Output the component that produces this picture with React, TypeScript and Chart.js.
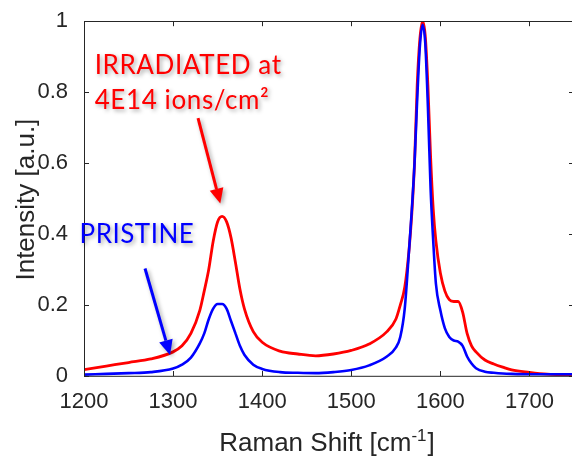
import React, { useEffect, useRef } from "react";
import { Chart, registerables } from "chart.js";
Chart.register(...registerables);

// Raman shift (cm^-1) sample positions
const ramanShift = [
  1200, 1225, 1250, 1275, 1300, 1310, 1320, 1330, 1335, 1340, 1345, 1350, 1355, 1360, 1365, 1370,
  1375, 1380, 1390, 1400, 1420, 1440, 1460, 1480, 1500, 1520, 1540, 1550, 1555, 1560, 1565, 1568,
  1571, 1574, 1577, 1580, 1583, 1586, 1589, 1592, 1595, 1600, 1605, 1610, 1615, 1620, 1625, 1630,
  1635, 1640, 1650, 1660, 1670, 1680, 1700, 1720, 1750,
];
// Irradiated at 4E14 ions/cm2 (red)
const intensityIrradiated = [
  0.018, 0.028, 0.038, 0.048, 0.068, 0.085, 0.12, 0.185, 0.24, 0.3, 0.38, 0.435, 0.45, 0.435, 0.39, 0.32,
  0.245, 0.19, 0.125, 0.095, 0.07, 0.062, 0.057, 0.062, 0.072, 0.09, 0.125, 0.16, 0.2, 0.25, 0.36, 0.46,
  0.6, 0.82, 0.95, 1.0, 0.96, 0.82, 0.62, 0.47, 0.38, 0.29, 0.24, 0.215, 0.21, 0.21, 0.18, 0.12,
  0.085, 0.068, 0.045, 0.034, 0.025, 0.017, 0.01, 0.005, 0.003,
];
// Pristine (blue)
const intensityPristine = [
  0.004, 0.006, 0.008, 0.011, 0.021, 0.032, 0.052, 0.092, 0.12, 0.16, 0.19, 0.203, 0.203, 0.19, 0.155, 0.12,
  0.085, 0.06, 0.032, 0.02, 0.011, 0.009, 0.008, 0.011, 0.017, 0.03, 0.055, 0.08, 0.11, 0.19, 0.36, 0.47,
  0.6, 0.78, 0.93, 0.99, 0.94, 0.76, 0.53, 0.38, 0.26, 0.185, 0.135, 0.11, 0.1, 0.097, 0.085, 0.055,
  0.035, 0.022, 0.012, 0.009, 0.007, 0.006, 0.005, 0.005, 0.005,
];
const xTickValues = [1200, 1300, 1400, 1500, 1600, 1700];
const yTickValues = [0, 0.2, 0.4, 0.6, 0.8, 1];
const yTickLabels = ["0", "0.2", "0.4", "0.6", "0.8", "1"];

const xTitle = "Raman Shift [cm";
const xTitleSup = "-1";
const xTitleEnd = "]";
const yTitle = "Intensity [a.u.]";
const irradiatedLabel = ["IRRADIATED at", "4E14 ions/cm²"];
const pristineLabel = "PRISTINE";

// annotation anchors (data coordinates)
const irradiatedText = { x: 1212, y: 0.85 };
const irradiatedArrow = { x1: 1328, y1: 0.727, x2: 1353, y2: 0.486 };
const pristineText = { x: 1195, y: 0.376 };
const pristineArrow = { x1: 1268.5, y1: 0.303, x2: 1296.6, y2: 0.059 };

const AXIS = "#262626";
const TICK_FONT = "'Liberation Sans', Arial, sans-serif";
const NOTE_FONT = "Lato, 'Open Sans', sans-serif";

function drawArrow(ctx: CanvasRenderingContext2D, x1: number, y1: number, x2: number, y2: number, color: string) {
  const ang = Math.atan2(y2 - y1, x2 - x1);
  const hl = 15, hw = 7;
  const bx = x2 - hl * Math.cos(ang), by = y2 - hl * Math.sin(ang);
  ctx.strokeStyle = color;
  ctx.fillStyle = color;
  ctx.lineWidth = 3;
  ctx.beginPath();
  ctx.moveTo(x1, y1);
  ctx.lineTo(bx, by);
  ctx.stroke();
  ctx.beginPath();
  ctx.moveTo(x2, y2);
  ctx.lineTo(bx + hw * Math.sin(ang), by - hw * Math.cos(ang));
  ctx.lineTo(bx - hw * Math.sin(ang), by + hw * Math.cos(ang));
  ctx.closePath();
  ctx.fill();
}

const framePlugin = {
  id: "frame",
  afterDraw(chart: any) {
    const { ctx, chartArea: a, scales } = chart;
    const x = scales.x, y = scales.y;
    ctx.save();
    // frame
    ctx.strokeStyle = AXIS;
    ctx.lineWidth = 1;
    ctx.strokeRect(Math.round(a.left) + 0.5, Math.round(a.top) + 0.5, a.right - a.left, a.bottom - a.top);
    // inner ticks
    const tl = 5;
    ctx.beginPath();
    xTickValues.forEach((v) => {
      const px = Math.round(x.getPixelForValue(v)) + 0.5;
      ctx.moveTo(px, a.bottom);
      ctx.lineTo(px, a.bottom - tl);
      ctx.moveTo(px, a.top);
      ctx.lineTo(px, a.top + tl);
    });
    yTickValues.forEach((v) => {
      const py = Math.round(y.getPixelForValue(v)) + 0.5;
      ctx.moveTo(a.left, py);
      ctx.lineTo(a.left + tl, py);
      ctx.moveTo(a.right, py);
      ctx.lineTo(a.right - tl, py);
    });
    ctx.stroke();

    // axis titles
    ctx.fillStyle = AXIS;
    ctx.textBaseline = "alphabetic";
    const big = `26px ${TICK_FONT}`;
    const small = `17px ${TICK_FONT}`;
    ctx.font = big;
    const w1 = ctx.measureText(xTitle).width;
    ctx.font = small;
    const w2 = ctx.measureText(xTitleSup).width;
    ctx.font = big;
    const w3 = ctx.measureText(xTitleEnd).width;
    const total = w1 + w2 + w3 + 1;
    const cx = (a.left + a.right) / 2;
    let sx = cx - total / 2 - 2;
    const by = 451;
    ctx.textAlign = "left";
    ctx.fillText(xTitle, sx, by);
    sx += w1;
    ctx.font = small;
    ctx.fillText(xTitleSup, sx, by - 10);
    sx += w2 + 1;
    ctx.font = big;
    ctx.fillText(xTitleEnd, sx, by);

    ctx.save();
    ctx.translate(34, (a.top + a.bottom) / 2 + 1);
    ctx.rotate(-Math.PI / 2);
    ctx.textAlign = "center";
    ctx.fillText(yTitle, 0, 0);
    ctx.restore();

    // annotations
    ctx.shadowColor = "rgba(0,0,0,0.35)";
    ctx.shadowBlur = 4;
    ctx.shadowOffsetX = 2;
    ctx.shadowOffsetY = 2;
    ctx.textAlign = "left";
    ctx.font = `26px ${NOTE_FONT}`;
    (ctx as any).letterSpacing = "0.6px";
    ctx.fillStyle = "#ff0000";
    const tx = x.getPixelForValue(irradiatedText.x);
    const ty = y.getPixelForValue(irradiatedText.y);
    ctx.fillText(irradiatedLabel[0], tx, ty);
    ctx.fillText(irradiatedLabel[1], tx, ty + 35);
    drawArrow(
      ctx,
      x.getPixelForValue(irradiatedArrow.x1), y.getPixelForValue(irradiatedArrow.y1),
      x.getPixelForValue(irradiatedArrow.x2), y.getPixelForValue(irradiatedArrow.y2),
      "#ff0000"
    );
    ctx.fillStyle = "#0000ff";
    (ctx as any).letterSpacing = "0.5px";
    ctx.fillText(pristineLabel, x.getPixelForValue(pristineText.x), y.getPixelForValue(pristineText.y));
    drawArrow(
      ctx,
      x.getPixelForValue(pristineArrow.x1), y.getPixelForValue(pristineArrow.y1),
      x.getPixelForValue(pristineArrow.x2), y.getPixelForValue(pristineArrow.y2),
      "#0000ff"
    );
    (ctx as any).letterSpacing = "0px";
    ctx.restore();
  },
};

export default function App() {
  const ref = useRef<HTMLCanvasElement | null>(null);
  useEffect(() => {
    document.body.style.margin = "0";
    if (!ref.current) return;
    const chart = new Chart(ref.current, {
      type: "line",
      data: {
        datasets: [
          {
            label: "Pristine",
            data: ramanShift.map((v, i) => ({ x: v, y: intensityPristine[i] })),
            borderColor: "#0000ff",
            borderWidth: 2.6,
            pointRadius: 0,
            cubicInterpolationMode: "monotone",
          },
          {
            label: "Irradiated",
            data: ramanShift.map((v, i) => ({ x: v, y: intensityIrradiated[i] })),
            borderColor: "#ff0000",
            borderWidth: 2.8,
            pointRadius: 0,
            cubicInterpolationMode: "monotone",
          },
        ],
      },
      options: {
        animation: false,
        responsive: true,
        maintainAspectRatio: false,
        layout: { padding: { top: 20, right: 0, left: 0, bottom: 0 } },
        plugins: { legend: { display: false }, tooltip: { enabled: false } },
        scales: {
          x: {
            type: "linear",
            min: 1200,
            max: 1750,
            grid: { display: false },
            border: { display: false },
            afterBuildTicks: (s: any) => {
              s.ticks = xTickValues.map((v) => ({ value: v }));
            },
            afterFit: (s: any) => {
              s.height = 80;
            },
            ticks: {
              color: AXIS,
              font: { size: 22, family: TICK_FONT },
              padding: 5,
              maxRotation: 0,
              callback: (v: any) => String(v),
            },
          },
          y: {
            type: "linear",
            min: 0,
            max: 1,
            grid: { display: false },
            border: { display: false },
            afterBuildTicks: (s: any) => {
              s.ticks = yTickValues.map((v) => ({ value: v }));
            },
            afterFit: (s: any) => {
              s.width = 84;
            },
            ticks: {
              color: AXIS,
              font: { size: 22, family: TICK_FONT },
              padding: 8,
              callback: (v: any) => {
                const i = yTickValues.findIndex((t) => Math.abs(t - v) < 1e-9);
                return i >= 0 ? yTickLabels[i] : "";
              },
            },
          },
        },
      },
      plugins: [framePlugin],
    } as any);
    return () => chart.destroy();
  }, []);
  return (
    <div style={{ position: "fixed", left: 0, top: 0, width: 572, height: 456, overflow: "hidden", background: "#fff" }}>
      <div style={{ position: "relative", width: 574, height: 456 }}>
        <canvas ref={ref} />
      </div>
    </div>
  );
}
